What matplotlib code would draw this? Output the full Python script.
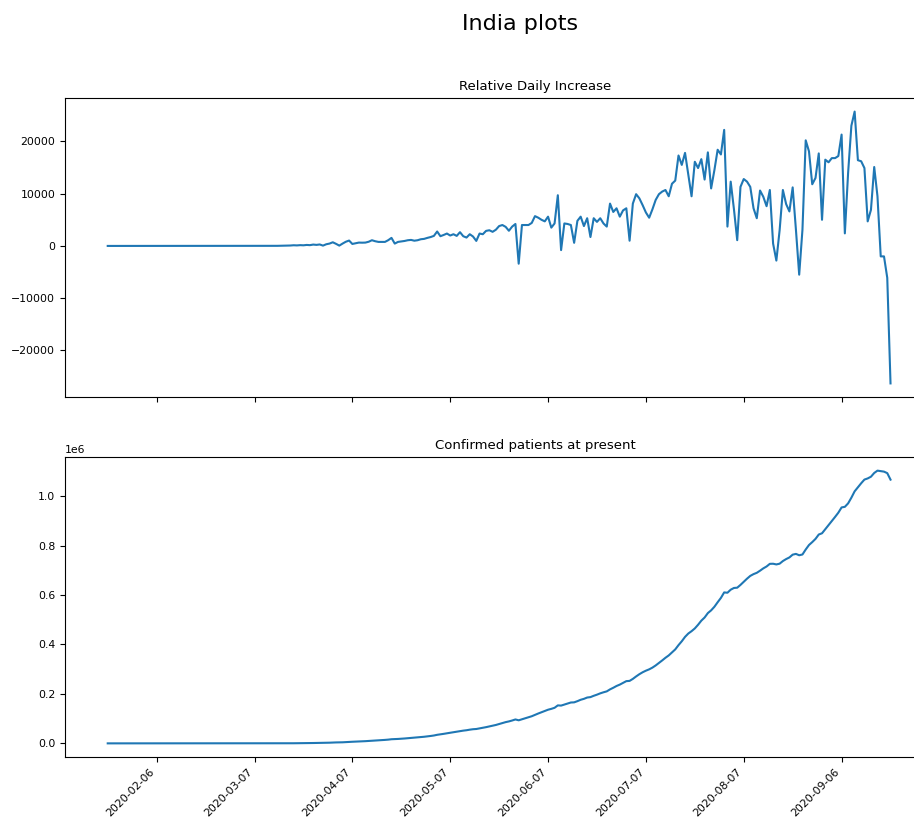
import numpy as np
import matplotlib
matplotlib.use("Agg")
import matplotlib.pyplot as plt

# Day-to-day change of active cases (people), one value per row of the data
daily_increase = [
    0, 0, 0, 0, 0, 0, 0, 0, 0, 0, 0, 0, 0, 0, 0, 0, 0, 0, 0, 0,
    0, 0, 0, 0, 0, 0, 0, 0, 0, 0, 0, 0, 0, 0, 0, 0, 0, 0, 0, 0,
    0, 0, 20, 0, 0, 0, 0, 10, 10, 10, 20, 10, 20, 30, 40, 60, 80,
    130, 100, 150, 120, 190, 150, 260, 200, 280, 60, 320, 450,
    700, 400, 60, 450, 800, 1030, 380, 500, 640, 620, 640, 800,
    1090, 900, 770, 760, 770, 1100, 1540, 450, 770, 850, 950, 1090,
    1150, 1000, 1090, 1280, 1350, 1540, 1700, 1920, 2760, 1860, 2100, 2370,
    1990, 2240, 1920, 2630, 1860, 1600, 2240, 1800, 960, 2370, 2240, 2880,
    3000, 2700, 3100, 3800, 4000, 3650, 2900, 3700, 4200, -3400,
    4000, 4000, 4000, 4400, 5700, 5400, 5000, 4700, 5600, 3500,
    4300, 9700, -800, 4300, 4200, 4000, 600, 4800, 5600, 3800,
    5300, 1700, 5300, 4600, 5300, 4300, 3700, 8100, 6500, 7200,
    5600, 6800, 7200, 1000, 8100, 9900, 9100, 7800, 6400, 5400,
    7000, 8800, 9900,
    10400, 10700, 9500, 11900, 12500, 17300, 15500, 17800, 13600, 9500,
    16100, 14900, 16600, 12700, 17900, 11000, 14500, 18400, 17500, 22200,
    3700, 12300, 7000, 1100, 11300, 12800, 12300, 11300, 7200, 5300,
    10600, 9400, 7600, 10700, 450, -2800, 3000, 10700, 8000, 6600, 11200, 3100, -5500,
    3100, 20200, 18100, 11800, 13000, 17700, 5000, 16500, 16000, 16800, 16800, 17200,
    21300, 2400, 14000, 23000, 25700, 16400, 16200, 14900, 4700, 6900, 15100, 9500,
    -2000, -2000, -6100, -26300,
]

# Active cases in thousands
active_k = [
    0, 0, 0, 0, 0, 0, 0, 0, 0, 0, 0, 0, 0, 0, 0, 0, 0, 0, 0, 0, 0,
    0, 0, 0, 0, 0, 0, 0, 0, 0, 0, 0, 0, 0, 0, 0, 0, 0, 0, 0, 0, 0,
    0.02, 0.02, 0.02, 0.02, 0.02, 0.03, 0.04, 0.05, 0.07, 0.08, 0.1, 0.13, 0.17, 0.23, 0.31,
    0.44, 0.54, 0.69, 0.81, 1.0, 1.15, 1.41, 1.61, 1.89, 1.95, 2.27, 2.72,
    3.4, 3.8, 3.9, 4.3, 5.1, 6.2, 6.5, 7.0, 7.7, 8.3, 8.9, 9.7,
    10.8, 11.7, 12.5, 13.3, 14.0, 15.1, 16.7, 17.1, 17.9, 18.7, 19.7, 20.8,
    21.9, 22.9, 24.0, 25.3, 26.7, 28.2, 29.9, 31.8, 34.6, 36.4, 38.5, 40.9,
    42.9, 45.1, 47.1, 49.7, 51.5, 53.1, 55.4, 57.2, 58.1, 60.5, 62.8, 65.6,
    68.6, 71.3, 74.4, 78.2, 82.2, 85.9, 88.8, 92.5, 96.7, 93.3,
    97.3, 101.3, 105.3, 109.7, 115.4, 120.8, 125.8, 130.5, 136.1, 139.6,
    143.9, 153.6, 152.8, 157.1, 161.3, 165.3, 165.9, 170.7, 176.3, 180.1,
    185.4, 187.1, 192.4, 197.0, 202.3, 206.6, 210.3, 218.4, 224.9, 232.1,
    237.7, 244.5, 251.7, 252.7, 260.8, 270.7, 279.8, 287.6, 294.0, 299.4,
    306.4, 315.2, 325.1,
    335.5, 346.2, 355.7, 367.6, 380.1, 397.4, 412.9, 430.7, 444.3, 453.8,
    464.9, 479.8, 496.4, 509.1, 527.0, 538.0, 552.5, 570.9, 588.4, 610.6,
    609.3, 621.6, 628.6, 629.7, 641.0, 653.8, 666.1, 677.4, 684.6, 689.9,
    698.5, 707.9, 715.5, 726.2, 726.6, 723.8, 726.8, 737.5, 745.5, 752.1, 763.3, 766.4, 760.9,
    764.0, 784.2, 802.3, 814.1, 827.1, 844.8, 849.8, 866.3, 882.3, 899.1, 915.9, 933.1,
    954.4, 956.8, 970.8, 993.8, 1019.5, 1035.9, 1052.1, 1067.0, 1071.7, 1078.6, 1093.7, 1103.2,
    1101.2, 1099.2, 1093.1, 1066.8,
]

tick_labels = ["2020-02-06", "2020-03-07", "2020-04-07", "2020-05-07",
               "2020-06-07", "2020-07-07", "2020-08-07", "2020-09-06"]

days = np.arange(len(daily_increase))
active = np.array(active_k) * 1000

fig, (ax1, ax2) = plt.subplots(2, 1, sharex=True, figsize=(9.14, 8.27), dpi=100)
fig.suptitle("India plots", fontsize=16, x=0.569, y=0.971, va="center")

ax1.plot(days, daily_increase)
ax1.set_title("Relative Daily Increase", fontsize=9.5)

ax2.plot(days, active)
ax2.set_title("Confirmed patients at present", fontsize=9.5)

# every 30th row gets a date label
ax2.set_xticks(np.arange(15, len(days), 30))
ax2.set_xticklabels(tick_labels, rotation=45, ha="right")
ax2.set_xlim(-13.1, 275.1)

for ax in (ax1, ax2):
    ax.tick_params(labelsize=7.8)
ax2.yaxis.get_offset_text().set_fontsize(7.8)

ax1.set_position([65 / 914, 1 - 397 / 827, 940 / 914, 299 / 827])
ax2.set_position([65 / 914, 1 - 757 / 827, 940 / 914, 300 / 827])

fig.savefig("out.png")
